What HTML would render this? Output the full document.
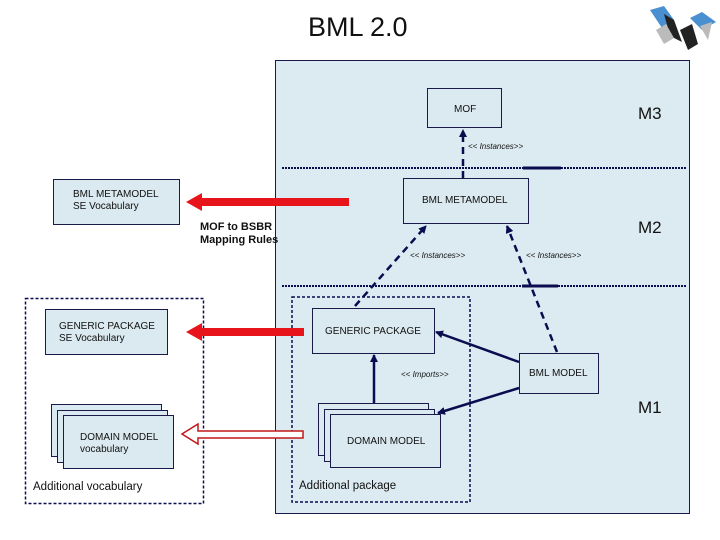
<!DOCTYPE html>
<html><head><style>
body{margin:0;width:720px;height:540px;background:#fff;position:relative;overflow:hidden;font-family:"Liberation Sans",sans-serif;}
.b{position:absolute;background:#dbeaf0;border:1px solid #1a1a4a;box-sizing:border-box;font-size:10px;color:#111;}
.t{position:absolute;color:#111;white-space:nowrap;}
</style></head><body>
<div class="t" style="left:308px;top:12px;font-size:27px;">BML 2.0</div>
<div style="position:absolute;left:275px;top:60px;width:415px;height:454px;background:#dcebf1;border:1px solid #1a1a4a;box-sizing:border-box"></div>
<svg style="position:absolute;left:0;top:0" width="720" height="540">
<defs>
<marker id="a" markerWidth="8" markerHeight="8" refX="7" refY="4" orient="auto" markerUnits="userSpaceOnUse"><path d="M0,0L8,4L0,8z" fill="#0b0b50"/></marker>
</defs>
<g fill="#4a8fd0"><path d="M650 10l14-4 10 14-12 8z"/><path d="M690 18l12-6 14 10-14 8z"/></g>
<g fill="#222"><path d="M664 14l10 6 8 22-12-6z"/><path d="M680 30l12-6 6 20-10 6z"/></g>
<g fill="#bbb"><path d="M656 30l10-6 8 14-10 6z"/><path d="M700 26l12-4-4 18z"/></g>
<line x1="282" y1="168" x2="686" y2="168" stroke="#0b0b50" stroke-width="2" stroke-dasharray="2,1"/>
<line x1="523" y1="168" x2="561" y2="168" stroke="#0b0b50" stroke-width="3"/>
<line x1="282" y1="286" x2="686" y2="286" stroke="#0b0b50" stroke-width="2" stroke-dasharray="2,1"/>
<line x1="522" y1="286" x2="558" y2="286" stroke="#0b0b50" stroke-width="3"/>
<rect x="292" y="297" width="178" height="205" fill="none" stroke="#0b0b50" stroke-width="1.5" stroke-dasharray="3,2"/>
<rect x="25.5" y="298.5" width="178" height="205" fill="none" stroke="#0b0b50" stroke-width="1.5" stroke-dasharray="3,2"/>
<g stroke="#0b0b50" stroke-width="2.5" fill="none">
<line x1="463" y1="178" x2="463" y2="130" stroke-dasharray="7,5" marker-end="url(#a)"/>
<line x1="355" y1="306" x2="426" y2="226" stroke-dasharray="7,5" marker-end="url(#a)"/>
<line x1="557" y1="352" x2="507" y2="226" stroke-dasharray="7,5" marker-end="url(#a)"/>
<line x1="519" y1="362" x2="436" y2="332" marker-end="url(#a)"/>
<line x1="519" y1="388" x2="438" y2="413" marker-end="url(#a)"/>
<line x1="374" y1="403" x2="374" y2="355" marker-end="url(#a)"/>
</g>
<g fill="#e8141c">
<rect x="200" y="198" width="149" height="8"/><path d="M186 202l16-9v18z"/>
<rect x="200" y="328" width="104" height="8"/><path d="M186 332l16-9v18z"/>
</g>
<path d="M303 431v7H198v6l-16-10 16-10v7z" fill="#fff" stroke="#c01818" stroke-width="1.5"/>
</svg>
<div class="b" style="left:427px;top:88px;width:75px;height:40px;padding:15px 0 0 26px">MOF</div>
<div class="t" style="left:638px;top:104px;font-size:17px">M3</div>
<div class="t" style="left:468px;top:142px;font-size:8px;font-style:italic">&lt;&lt; Instances&gt;&gt;</div>
<div class="b" style="left:403px;top:178px;width:126px;height:46px;padding:16px 0 0 18px">BML METAMODEL</div>
<div class="t" style="left:638px;top:218px;font-size:17px">M2</div>
<div class="t" style="left:410px;top:251px;font-size:8px;font-style:italic">&lt;&lt; Instances&gt;&gt;</div>
<div class="t" style="left:526px;top:251px;font-size:8px;font-style:italic">&lt;&lt; Instances&gt;&gt;</div>
<div class="b" style="left:53px;top:179px;width:127px;height:46px;padding:9px 0 0 19px;line-height:12px">BML METAMODEL<br>SE Vocabulary</div>
<div class="t" style="left:200px;top:221px;font-size:11px;font-weight:bold;line-height:13px;color:#111">MOF to BSBR<br>Mapping Rules</div>
<div class="b" style="left:312px;top:308px;width:123px;height:46px;padding:17px 0 0 12px">GENERIC PACKAGE</div>
<div class="b" style="left:45px;top:309px;width:123px;height:46px;padding:11px 0 0 13px;line-height:12px">GENERIC PACKAGE<br>SE Vocabulary</div>
<div class="t" style="left:401px;top:370px;font-size:8px;font-style:italic">&lt;&lt; Imports&gt;&gt;</div>
<div class="b" style="left:519px;top:353px;width:80px;height:41px;padding:14px 0 0 9px">BML MODEL</div>
<div class="t" style="left:638px;top:398px;font-size:17px">M1</div>
<div class="b" style="left:318px;top:403px;width:111px;height:53px"></div>
<div class="b" style="left:324px;top:409px;width:111px;height:53px"></div>
<div class="b" style="left:330px;top:414px;width:111px;height:54px;padding:21px 0 0 16px">DOMAIN MODEL</div>
<div class="b" style="left:51px;top:404px;width:111px;height:53px"></div>
<div class="b" style="left:57px;top:410px;width:111px;height:53px"></div>
<div class="b" style="left:63px;top:415px;width:111px;height:54px;padding:16px 0 0 16px;line-height:12px">DOMAIN MODEL<br>vocabulary</div>
<div class="t" style="left:33px;top:481px;font-size:11.5px;color:#111">Additional vocabulary</div>
<div class="t" style="left:299px;top:480px;font-size:11.5px;color:#111">Additional package</div>
</body></html>
